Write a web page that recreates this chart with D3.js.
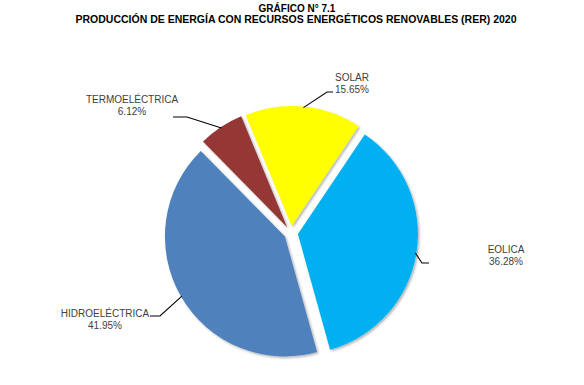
<!DOCTYPE html>
<html>
<head>
<meta charset="utf-8">
<script src="https://cdn.jsdelivr.net/npm/d3@7/dist/d3.min.js"></script>
<style>
  html, body { margin: 0; padding: 0; background: #fff; }
  svg { display: block; }
</style>
</head>
<body>
<svg id="chart" width="584" height="385"></svg>
<script>
// ---- data ----
const titleLines = ["GRÁFICO N° 7.1", "PRODUCCIÓN DE ENERGÍA CON RECURSOS ENERGÉTICOS RENOVABLES (RER) 2020"];
const categories = ["SOLAR", "EOLICA", "HIDROELÉCTRICA", "TERMOELÉCTRICA"];
const values = [15.65, 36.28, 41.95, 6.12];
const colors = ["#FFFF00", "#00B0F0", "#4F81BD", "#953735"];

// ---- layout ----
const W = 584, H = 385;
const cx = 291, cy = 233, R = 120, explode = 7;
const startDeg = -22.5;
// label text centre + leader elbow/end (layout only)
const labelLayout = {
  "SOLAR":          { tx: 352, ty: 81,  elbow: [327, 92],  end: [333, 92] },
  "EOLICA":         { tx: 506, ty: 253, elbow: [422, 263], end: [429, 263] },
  "HIDROELÉCTRICA": { tx: 105, ty: 317, elbow: [160, 316], end: [150, 316] },
  "TERMOELÉCTRICA": { tx: 132, ty: 103, elbow: [187, 117], end: [173, 117] }
};

const svg = d3.select("#chart");

const defs = svg.append("defs");
const f = defs.append("filter").attr("id", "shadow")
  .attr("x", "-20%").attr("y", "-20%").attr("width", "140%").attr("height", "140%");
f.append("feDropShadow").attr("dx", 1.5).attr("dy", 1.5).attr("stdDeviation", 1.2)
  .attr("flood-color", "#000").attr("flood-opacity", 0.3);

// title
svg.append("text").attr("x", 297).attr("y", 12).attr("text-anchor", "middle")
  .attr("font-family", "Liberation Sans, Arial, sans-serif").attr("font-weight", "bold")
  .attr("font-size", 10).attr("fill", "#000").text(titleLines[0]);
svg.append("text").attr("x", 296).attr("y", 23).attr("text-anchor", "middle")
  .attr("font-family", "Liberation Sans, Arial, sans-serif").attr("font-weight", "bold")
  .attr("font-size", 10.5).attr("fill", "#000").text(titleLines[1]);

const data = categories.map((c, i) => ({ cat: c, value: values[i], color: colors[i] }));
const s0 = startDeg * Math.PI / 180;
const pie = d3.pie().sort(null).value(d => d.value).startAngle(s0).endAngle(s0 + 2 * Math.PI);
const arc = d3.arc().innerRadius(0).outerRadius(R);
const arcs = pie(data);

const g = svg.append("g").attr("transform", `translate(${cx},${cy})`);

function offset(a) {
  const mid = (a.startAngle + a.endAngle) / 2;
  return [Math.sin(mid) * explode, -Math.cos(mid) * explode];
}

g.selectAll("path.slice").data(arcs).enter().append("path")
  .attr("class", "slice")
  .attr("transform", d => { const o = offset(d); return `translate(${o[0]},${o[1]})`; })
  .attr("d", arc)
  .attr("fill", d => d.data.color)
  .attr("filter", "url(#shadow)");

// leader lines
arcs.forEach(a => {
  const mid = (a.startAngle + a.endAngle) / 2;
  const o = offset(a);
  const rr = R - 1;
  const p0 = [cx + o[0] + Math.sin(mid) * rr, cy + o[1] - Math.cos(mid) * rr];
  const L = labelLayout[a.data.cat];
  svg.append("path")
    .attr("d", d3.line()([p0, L.elbow, L.end]))
    .attr("fill", "none").attr("stroke", "#000").attr("stroke-width", 1.1);
  const t = svg.append("text").attr("text-anchor", "middle")
    .attr("font-family", "Liberation Sans, Arial, sans-serif")
    .attr("font-size", 10).attr("fill", "#404040");
  t.append("tspan").attr("x", L.tx).attr("y", L.ty).text(a.data.cat);
  t.append("tspan").attr("x", L.tx).attr("y", L.ty + 11.5).text(d3.format(".2f")(a.data.value) + "%");
});
</script>
</body>
</html>
